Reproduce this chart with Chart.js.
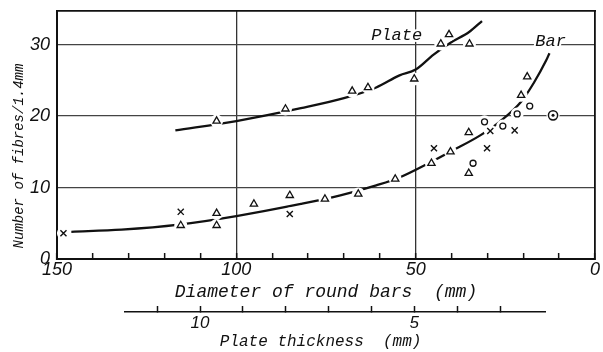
<!DOCTYPE html>
<html><head><meta charset="utf-8">
<script src="https://cdn.jsdelivr.net/npm/chart.js@4"></script>
<style>
html,body{margin:0;padding:0;background:#fff;}
#wrap{position:relative;width:603px;height:352px;background:#fff;}
canvas{position:absolute;left:0;}
#main{top:0;width:603px;height:305px;}
#plate{top:290px;width:603px;height:62px;}
</style></head><body>
<div id="wrap"><canvas id="main" width="603" height="305"></canvas><canvas id="plate" width="603" height="62"></canvas></div>
<script>
// ---- data ----
const plateCurveD = [117, 100, 82, 70, 61, 54.5, 50, 45, 40.5, 35, 31.5];
const plateCurveN = [18.0, 19.3, 21.1, 22.5, 24.0, 25.7, 26.5, 28.6, 30.2, 31.8, 33.3];
const barCurveD = [146, 132, 116, 100, 82, 71, 61, 54.5, 45.6, 40, 32, 26.6, 20.6, 17, 13.6, 12.7];
const barCurveN = [3.8, 4.1, 4.8, 6.0, 7.7, 8.9, 10.3, 11.4, 13.6, 15.1, 17.3, 19.2, 22.0, 24.7, 27.8, 28.8];

const plateTriD = [105.5, 86.3, 67.7, 63.3, 50.4, 43, 40.7, 35];
const plateTriN = [19.3, 21.0, 23.5, 24.0, 25.2, 30.1, 31.4, 30.1];
const barTriD = [115.5, 105.5, 105.5, 95.1, 85.1, 75.3, 66, 55.7, 45.6, 40.3, 35.2, 35.2, 20.6, 18.9];
const barTriN = [4.7, 6.4, 4.7, 7.7, 8.9, 8.4, 9.1, 11.2, 13.4, 15.0, 17.7, 12.0, 22.9, 25.5];
const barCrossD = [148.2, 115.5, 85.1, 44.9, 30.1, 29.2, 22.4];
const barCrossN = [3.6, 6.6, 6.3, 15.5, 15.5, 17.9, 18.0];
const barCircleD = [30.8, 34, 25.7, 21.7, 18.2];
const barCircleN = [19.2, 13.4, 18.6, 20.3, 21.4];
const refD = [11.7];
const refN = [20.1];

const noteText = ['Plate', 'Bar'];
const noteD = [55.3, 12.4];
const noteN = [31.3, 30.4];

const dTicks = [0,10,20,30,40,50,60,70,80,90,100,110,120,130,140,150];
const dLabels = [0, 50, 100, 150];
const dGrid = [50, 100];
const nTicks = [0, 10, 20, 30];
const tTicks = [3,4,5,6,7,8,9,10,11];
const tLabels = [5, 10];

// ---- helpers ----
const pts = (xs, ys) => xs.map((x, i) => ({x: x, y: ys[i]}));
const INK = '#111';
const tickFont = {family: '"Liberation Sans Narrow", "Liberation Sans", sans-serif', style: 'italic', size: 18};
const monoFont = (s) => ({family: '"Liberation Mono", "DejaVu Sans Mono", monospace', style: 'italic', size: s});
const noPad = s => { s.paddingTop = 0; s.paddingBottom = 0; s.paddingLeft = 0; s.paddingRight = 0; };

const markers = [
  {d: plateTriD, n: plateTriN, style: 'triangle', r: 4.2, w: 1.3},
  {d: barTriD, n: barTriN, style: 'triangle', r: 4.2, w: 1.3},
  {d: barCrossD, n: barCrossN, style: 'crossRot', r: 4.3, w: 1.4},
  {d: barCircleD, n: barCircleN, style: 'circle', r: 3.0, w: 1.3},
  {d: refD, n: refN, style: 'circle', r: 4.6, w: 1.5}
];

const datasets = [];
// markers on top
markers.forEach(m => datasets.push({
  type: 'scatter', data: pts(m.d, m.n), order: 0,
  pointStyle: m.style, pointRadius: m.r, pointHoverRadius: m.r,
  pointBackgroundColor: '#fff', pointBorderColor: INK, pointBorderWidth: m.w, showLine: false
}));
datasets.push({
  type: 'scatter', data: pts(refD, refN), order: -1,
  pointStyle: 'circle', pointRadius: 1.5, pointBackgroundColor: INK, pointBorderWidth: 0, showLine: false
});
// white halos that break the curves and grid round each marker
markers.forEach(m => datasets.push({
  type: 'scatter', data: pts(m.d, m.n), order: 1,
  pointStyle: 'circle', pointRadius: 6.5, pointBackgroundColor: '#fff', pointBorderColor: '#fff', pointBorderWidth: 0, showLine: false
}));
// curves
[[plateCurveD, plateCurveN], [barCurveD, barCurveN]].forEach(c => datasets.push({
  type: 'line', data: pts(c[0], c[1]), order: 2,
  borderColor: INK, borderWidth: 2.3, pointRadius: 0, fill: false,
  cubicInterpolationMode: 'monotone'
}));

const notesPlugin = {
  id: 'notes',
  afterDatasetsDraw(chart) {
    const {ctx, scales: {x, y}} = chart;
    ctx.save();
    ctx.font = 'italic 17px "Liberation Mono", "DejaVu Sans Mono", monospace';
    ctx.textAlign = 'center';
    ctx.textBaseline = 'middle';
    ctx.lineWidth = 4;
    ctx.strokeStyle = '#fff';
    ctx.fillStyle = INK;
    noteText.forEach((t, i) => {
      const px = x.getPixelForValue(noteD[i]), py = y.getPixelForValue(noteN[i]);
      ctx.strokeText(t, px, py);
      ctx.fillText(t, px, py);
    });
    ctx.restore();
  }
};

new Chart(document.getElementById('main'), {
  type: 'scatter',
  data: {datasets: datasets},
  plugins: [notesPlugin],
  options: {
    responsive: false, animation: false, events: [],
    layout: {padding: 0},
    plugins: {legend: {display: false}, tooltip: {enabled: false}},
    scales: {
      x: {
        type: 'linear', position: 'bottom', min: 0, max: 150, reverse: true,
        afterBuildTicks: s => { s.ticks = dTicks.map(v => ({value: v})); },
        afterFit: s => { s.height = 46; noPad(s); },
        ticks: {autoSkip: false, maxRotation: 0, padding: 6, font: tickFont, color: INK,
                callback: v => dLabels.includes(v) ? String(v) : ''},
        grid: {color: c => (c.tick && dGrid.includes(c.tick.value)) ? '#333' : 'rgba(0,0,0,0)',
               lineWidth: 1.3, tickLength: -6, tickColor: INK, tickWidth: 1.5},
        border: {color: INK, width: 2},
        title: {display: true, text: 'Diameter of round bars  (mm)', font: monoFont(18), color: INK,
                padding: {top: 0, bottom: 2}}
      },
      x2: {
        type: 'linear', position: 'top', min: 0, max: 1,
        ticks: {display: false}, grid: {display: false, drawTicks: false},
        border: {color: INK, width: 1.8},
        afterFit: s => { s.height = 11; noPad(s); }
      },
      y: {
        type: 'linear', position: 'left', min: 0, max: 34.7,
        afterBuildTicks: s => { s.ticks = nTicks.map(v => ({value: v})); },
        afterFit: s => { s.width = 57; noPad(s); },
        ticks: {padding: 7, font: tickFont, color: INK},
        grid: {color: '#444', lineWidth: 1.3, drawTicks: false},
        border: {color: INK, width: 2},
        title: {display: true, text: 'Number of fibres/1.4mm     ', font: monoFont(14), color: INK,
                padding: {top: 11, bottom: 0}}
      },
      y2: {
        type: 'linear', position: 'right', min: 0, max: 1,
        ticks: {display: false}, grid: {display: false, drawTicks: false},
        border: {color: INK, width: 1.8},
        afterFit: s => { s.width = 8; noPad(s); }
      }
    }
  }
});

new Chart(document.getElementById('plate'), {
  type: 'scatter',
  data: {datasets: []},
  options: {
    responsive: false, animation: false, events: [],
    layout: {padding: {left: 125, right: 58, top: 17, bottom: 0}},
    plugins: {legend: {display: false}, tooltip: {enabled: false}},
    scales: {
      x: {
        type: 'linear', position: 'bottom', min: 1.95, max: 11.75, reverse: true,
        afterBuildTicks: s => { s.ticks = tTicks.map(v => ({value: v})); },
        afterFit: s => { s.height = 40; noPad(s); },
        ticks: {autoSkip: false, maxRotation: 0, padding: 7,
                font: {family: tickFont.family, style: 'italic', size: 17}, color: INK,
                callback: v => tLabels.includes(v) ? String(v) : ''},
        grid: {drawOnChartArea: false, tickLength: -6, tickColor: INK, tickWidth: 1.5},
        border: {color: INK, width: 1.5},
        title: {display: true, text: 'Plate thickness  (mm)   ', font: monoFont(16), color: INK,
                padding: {top: 0, bottom: 1}}
      },
      y: {display: false, min: 0, max: 1}
    }
  }
});
</script>
</body></html>
